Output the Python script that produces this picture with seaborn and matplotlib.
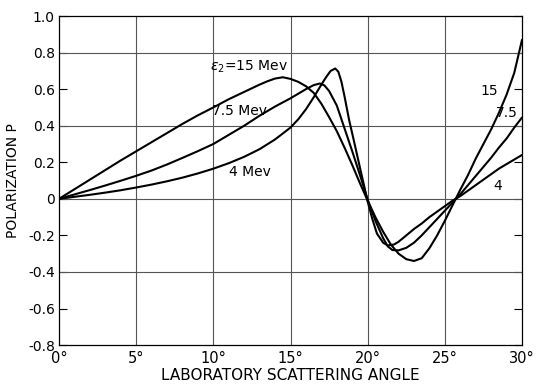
import numpy as np
import pandas as pd
import matplotlib
matplotlib.use("Agg")
import matplotlib.pyplot as plt
import seaborn as sns

# values
angle_15 = [0, 2, 4, 6, 8, 9, 10, 11, 12, 13, 13.5, 14, 14.5, 15, 15.5, 16, 16.5, 17, 17.5, 18, 18.5, 19, 19.5,
            20, 20.5, 21, 21.5, 22, 22.5, 23, 23.5, 24, 24.5, 25, 25.5, 26, 26.5, 27, 27.5, 28, 28.5, 29, 29.5, 30]
pol_15 = [0, 0.105, 0.21, 0.31, 0.41, 0.457, 0.50, 0.545, 0.585, 0.625, 0.643, 0.658, 0.665, 0.656, 0.64, 0.616,
          0.58, 0.52, 0.447, 0.37, 0.28, 0.185, 0.085, -0.01, -0.10, -0.18, -0.25, -0.30, -0.33, -0.34, -0.325,
          -0.27, -0.20, -0.12, -0.035, 0.05, 0.13, 0.22, 0.30, 0.38, 0.47, 0.57, 0.69, 0.87]

angle_75 = [0, 1, 2, 3, 4, 5, 6, 7, 8, 9, 10, 11, 12, 13, 14, 15, 15.5, 16, 16.5, 16.9, 17.2, 17.5, 18, 18.5, 19,
            19.5, 20, 20.5, 21, 21.3, 21.6, 22, 22.5, 23, 23.5, 24, 24.5, 25, 25.5, 26, 26.5, 27, 27.5, 28, 28.5,
            29, 29.5, 30]
pol_75 = [0, 0.024, 0.048, 0.073, 0.099, 0.126, 0.155, 0.188, 0.224, 0.261, 0.30, 0.35, 0.40, 0.455, 0.505,
          0.55, 0.575, 0.60, 0.622, 0.631, 0.62, 0.59, 0.51, 0.385, 0.26, 0.13, -0.005, -0.12, -0.215, -0.26,
          -0.28, -0.282, -0.268, -0.24, -0.20, -0.155, -0.11, -0.065, -0.02, 0.025, 0.075, 0.125, 0.175, 0.225,
          0.28, 0.33, 0.39, 0.445]

angle_4 = [0, 1, 2, 3, 4, 5, 6, 7, 8, 9, 10, 11, 12, 13, 14, 15, 15.5, 16, 16.5, 17, 17.3, 17.6, 17.9, 18.1, 18.3,
           18.5, 18.8, 19.1, 19.5, 20, 20.3, 20.6, 21, 21.3, 21.7, 22, 22.5, 23, 23.5, 24, 24.5, 25, 25.5, 26,
           26.5, 27, 27.5, 28, 28.5, 29, 29.5, 30]
pol_4 = [0, 0.011, 0.022, 0.034, 0.047, 0.062, 0.078, 0.096, 0.116, 0.139, 0.165, 0.195, 0.23, 0.272, 0.325,
         0.39, 0.435, 0.49, 0.555, 0.625, 0.665, 0.70, 0.713, 0.695, 0.64, 0.56, 0.43, 0.32, 0.17, -0.015, -0.11,
         -0.19, -0.24, -0.255, -0.25, -0.235, -0.20, -0.165, -0.135, -0.10, -0.07, -0.04, -0.01, 0.015, 0.045,
         0.075, 0.105, 0.135, 0.165, 0.19, 0.215, 0.24]

energies = ["15", "7.5", "4"]
x_ticks = [0, 5, 10, 15, 20, 25, 30]
x_ticklabels = ["0°", "5°", "10°", "15°", "20°", "25°", "30°"]
y_ticks = [-0.8, -0.6, -0.4, -0.2, 0, 0.2, 0.4, 0.6, 0.8, 1.0]
y_ticklabels = ["-0.8", "-0.6", "-0.4", "-0.2", "0", "0.2", "0.4", "0.6", "0.8", "1.0"]

df = pd.concat([
    pd.DataFrame({"angle": angle_15, "P": pol_15, "energy": "15"}),
    pd.DataFrame({"angle": angle_75, "P": pol_75, "energy": "7.5"}),
    pd.DataFrame({"angle": angle_4, "P": pol_4, "energy": "4"}),
])

sns.set_style("white")
plt.rcParams["font.family"] = ["DejaVu Sans"]
plt.rcParams["text.color"] = "black"
plt.rcParams["axes.labelcolor"] = "black"
plt.rcParams["xtick.color"] = "black"
plt.rcParams["ytick.color"] = "black"

fig = plt.figure(figsize=(5.39, 3.86), dpi=100)
ax = fig.add_axes([0.1095, 0.106, 0.859, 0.8525])

# grid: every 0.4 across, every 5 degrees down
for yv in [-0.4, 0, 0.4, 0.8]:
    ax.axhline(yv, color="#555555", lw=0.8, zorder=1)
for xv in [5, 10, 15, 20, 25]:
    ax.axvline(xv, color="#555555", lw=0.8, zorder=1)

sns.lineplot(data=df, x="angle", y="P", hue="energy", hue_order=energies,
             palette=["black"] * 3, estimator=None, sort=False, legend=False,
             lw=1.5, ax=ax, zorder=3)

ax.set_xlim(0, 30)
ax.set_ylim(-0.8, 1.0)
ax.set_xticks(x_ticks)
ax.set_xticklabels(x_ticklabels, fontsize=10.5)
ax.set_yticks(y_ticks)
ax.set_yticklabels(y_ticklabels, fontsize=10)
ax.tick_params(axis="x", length=0, pad=4)
ax.tick_params(axis="y", direction="in", length=6, width=0.8, right=True, left=True, pad=3)
for s in ax.spines.values():
    s.set_color("black")
    s.set_linewidth(0.9)

ax.set_xlabel("LABORATORY SCATTERING ANGLE", fontsize=11, labelpad=2)
ax.set_ylabel("POLARIZATION P", fontsize=10, labelpad=6)

ax.text(12.3, 0.72, r"$\epsilon_2$=15 Mev", fontsize=10, ha="center", va="center")
ax.text(11.7, 0.48, "7.5 Mev", fontsize=10, ha="center", va="center")
ax.text(12.4, 0.145, "4 Mev", fontsize=10, ha="center", va="center")
ax.text(27.9, 0.59, "15", fontsize=10, ha="center", va="center")
ax.text(29.0, 0.47, "7.5", fontsize=10, ha="center", va="center")
ax.text(28.4, 0.07, "4", fontsize=10, ha="center", va="center")

fig.savefig("out.png", dpi=100)
